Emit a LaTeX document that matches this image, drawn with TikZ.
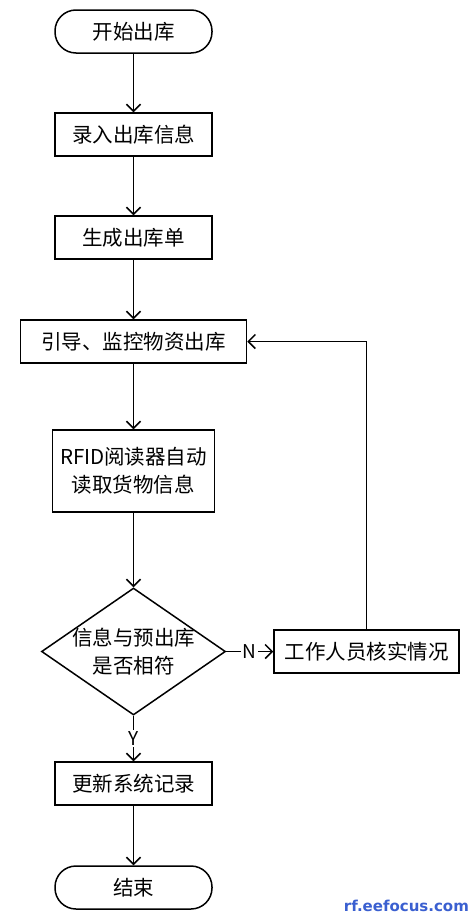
\documentclass[tikz,border=0pt]{standalone}
\usepackage{fontspec}
\setmainfont{Noto Sans CJK SC}
\newfontfamily\wmfont{DejaVu Sans}
\usetikzlibrary{shapes.geometric,arrows.meta}
\definecolor{wmblue}{HTML}{3A5FD0}
\begin{document}
\begin{tikzpicture}[x=1pt,y=-1pt,line width=1.5pt,
  every node/.style={font=\fontsize{20.5}{28}\selectfont},
  box/.style={draw,rectangle,inner sep=0pt,align=center},
  term/.style={draw,rectangle,rounded corners=21pt,inner sep=0pt,minimum width=157pt,minimum height=43pt},
  arr/.style={-{Straight Barb[length=7pt,width=14pt,line width=1.5pt]}},
  lbl/.style={fill=white,inner sep=1.5pt,font=\fontsize{19}{20}\selectfont}]
\useasboundingbox (0,0) rectangle (474,921);
\node[term] (s) at (133.5,31.5) {开始出库};
\node[box,minimum width=157pt,minimum height=43pt] (a) at (133.5,134.5) {录入出库信息};
\node[box,minimum width=157pt,minimum height=43pt] (b) at (133.5,237.5) {生成出库单};
\node[box,minimum width=226pt,minimum height=43pt] (g) at (133.5,341.5) {引导、监控物资出库};
\node[box,minimum width=162pt,minimum height=82pt] (r) at (133.5,471) {RFID阅读器自动\\读取货物信息};
\node[draw,diamond,inner sep=0pt,minimum width=184pt,minimum height=127pt,
  label={[align=center]center:信息与预出库\\是否相符}] (d) at (133.5,651.5) {};
\node[box,minimum width=185pt,minimum height=43pt] (w) at (366.5,651.5) {工作人员核实情况};
\node[box,minimum width=157pt,minimum height=43pt] (u) at (133.5,783.5) {更新系统记录};
\node[term] (e) at (133.5,887.5) {结束};
\node[anchor=east,text=wmblue,font=\wmfont\bfseries\fontsize{15}{17}\selectfont] (wm) at (473,906) {rf.eefocus.com};
\draw[arr] (s) -- (a);
\draw[arr] (a) -- (b);
\draw[arr] (b) -- (g);
\draw[arr] (g) -- (r);
\draw[arr] (r) -- (d);
\draw[arr] (d.east) -- node[lbl]{N} (w.west);
\draw[arr] (d.south) -- node[lbl]{Y} (u.north);
\draw[arr] (u) -- (e);
\draw[arr] (w.north) -- (w.north |- g.east) -- (g.east);
\end{tikzpicture}
\end{document}
